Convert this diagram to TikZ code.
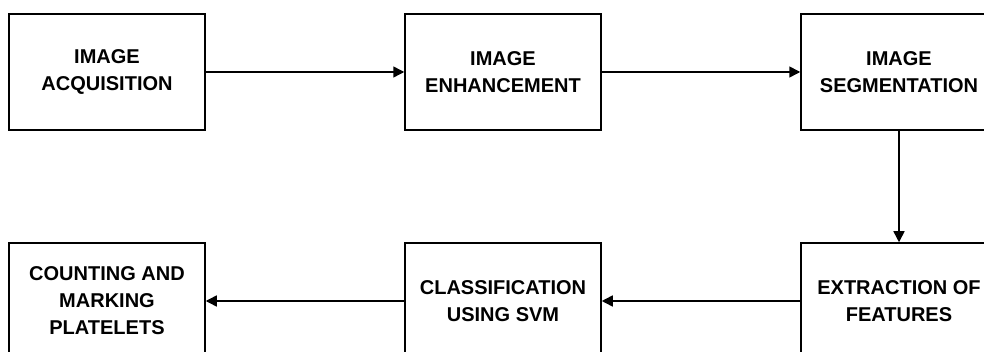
\documentclass[tikz,border=0pt]{standalone}
\usepackage{fontspec}
\setmainfont{Liberation Sans}
\usetikzlibrary{arrows.meta}
\tikzset{
  stagebox/.style={draw, line width=1.5pt, minimum width=196pt, minimum height=116pt,
    align=center, inner sep=0pt, font=\fontsize{20}{27}\selectfont\bfseries},
  flow/.style={-{Triangle[length=11pt,width=11pt]}, line width=1.5pt}
}
\begin{document}
\begin{tikzpicture}[x=1pt,y=-1pt]
				\useasboundingbox (0,0) rectangle (984,352);
				\clip (0,0) rectangle (984,352);
				\node[stagebox] (acq) at (107,72) {IMAGE\\ACQUISITION};
				\node[stagebox] (enh) at (503,72) {IMAGE\\ENHANCEMENT};
				\node[stagebox] (seg) at (899,72) {IMAGE\\SEGMENTATION};
				\node[stagebox] (ext) at (899,301) {EXTRACTION OF\\FEATURES};
				\node[stagebox] (svm) at (503,301) {CLASSIFICATION\\USING SVM};
				\node[stagebox] (cnt) at (107,301) {COUNTING AND\\MARKING\\PLATELETS};
				\draw[flow] (acq) -- (enh);
				\draw[flow] (enh) -- (seg);
				\draw[flow] (seg) -- (ext);
				\draw[flow] (ext) -- (svm);
				\draw[flow] (svm) -- (cnt);
			\end{tikzpicture}
\end{document}
